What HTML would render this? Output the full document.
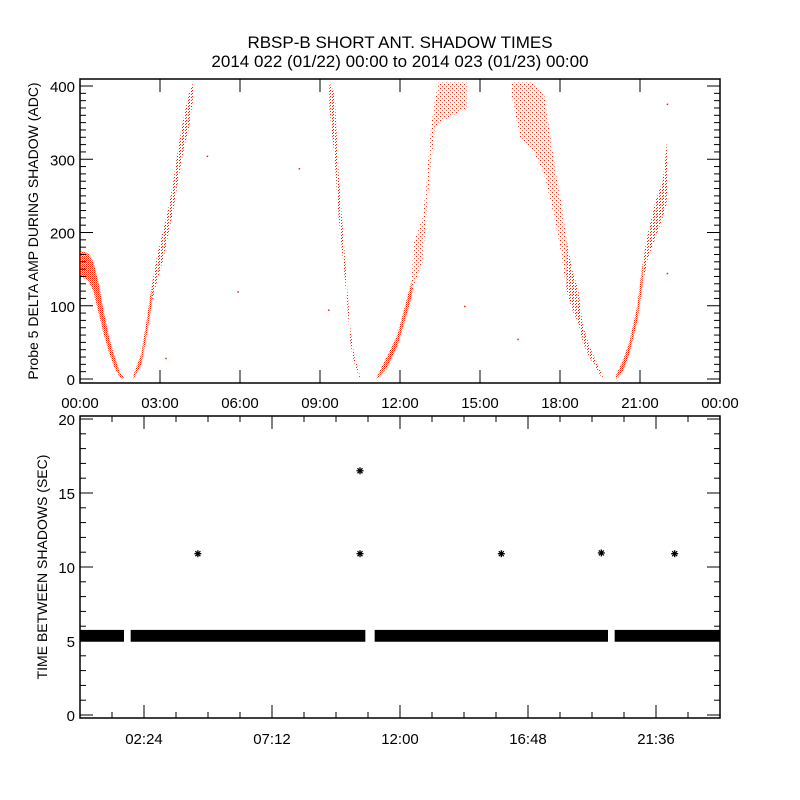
<!DOCTYPE html>
<html><head><meta charset="utf-8"><style>
body{margin:0;background:#fff}
svg{display:block;font-family:"Liberation Sans",sans-serif}
</style></head><body>
<svg id="c" width="800" height="800">
<defs>
<pattern id="dense" width="2" height="2" patternUnits="userSpaceOnUse"><rect width="1" height="1" fill="#ff2000"/><rect x="1" y="1" width="1" height="1" fill="#ff2000" opacity="0.6"/></pattern>
<pattern id="medium" width="3" height="3" patternUnits="userSpaceOnUse"><rect width="1" height="1" fill="#ff2000"/><rect x="2" y="1" width="1" height="1" fill="#ff2000"/></pattern>
<pattern id="sparse" width="4" height="4" patternUnits="userSpaceOnUse"><rect width="1" height="1" fill="#ff2000"/><rect x="2" y="2" width="1" height="1" fill="#ff2000" opacity="0.7"/></pattern>
</defs>
<text x="400" y="48" text-anchor="middle" font-size="17">RBSP-B SHORT ANT. SHADOW TIMES</text>
<text x="400" y="67" text-anchor="middle" font-size="17">2014 022 (01/22) 00:00 to 2014 023 (01/23) 00:00</text>
<g id="p1"></g><g id="p2"></g>
</svg>
<script>
// Top panel: delta amplitude bands [hour, low, high]
const seg1=[[0,140,175],[0.3,135,172],[0.5,120,160],[0.7,90,130],[0.9,60,90],[1.1,35,55],[1.3,15,30],[1.5,2,8],[1.65,0,3]];
const seg2a=[[2.0,0,5],[2.3,20,35],[2.5,60,80],[2.7,105,130]];
const seg2b=[[2.7,105,130],[2.9,135,170],[3.1,160,200],[3.3,195,230],[3.5,230,270],[3.7,275,320],[3.9,315,360],[4.1,345,392],[4.25,385,405]];
const seg3=[[9.35,370,405],[9.55,300,390],[9.7,220,280],[9.95,130,160],[10.15,45,65],[10.3,20,30],[10.5,0,5]];
const seg4a=[[11.13,0,3],[11.5,15,30],[11.9,45,60],[12.3,95,115],[12.45,115,135]];
const seg4b=[[12.45,115,135],[12.5,125,185],[12.85,160,220],[13.0,230,270],[13.15,290,340],[13.3,340,380],[13.45,350,405],[14.0,360,405],[14.5,370,405]];
const seg5a=[[16.2,385,405],[16.5,330,405],[17.0,310,405],[17.4,280,390],[17.6,250,340],[17.85,210,280],[18.05,170,240],[18.25,120,190]];
const seg5b=[[18.25,120,190],[18.45,95,150],[18.7,75,120],[18.85,50,75],[19.1,30,45],[19.35,15,25],[19.6,0,5]];
const seg6a=[[20.1,0,5],[20.35,10,25],[20.6,35,50],[20.9,80,100],[21.1,130,160]];
const seg6b=[[21.1,130,160],[21.3,165,200],[21.6,195,245],[21.85,220,270],[22.0,240,320],[22.05,300,330]];
const segments=[seg1,seg2a,seg2b,seg3,seg4a,seg4b,seg5a,seg5b,seg6a,seg6b];
const density=["dense","dense","medium","medium","dense","sparse","sparse","medium","dense","medium"];
const strayHours=[3.2,4.75,5.9,8.2,14.4,16.4,22.0,22.0,9.3];
const strayVals=[29,305,120,288,100,55,376,145,95];
const ampTicks=[0,100,200,300,400];
const hourTicks=["00:00","03:00","06:00","09:00","12:00","15:00","18:00","21:00","00:00"];
// Bottom panel
const bandStart=[0,1.9,11.05,20.05];
const bandEnd=[1.65,10.7,19.8,24];
const bandLow=[4.95,4.95,4.95,4.95];
const bandHigh=[5.75,5.75,5.75,5.75];
const starHours=[4.42,10.5,10.5,15.8,19.55,22.3];
const starVals=[10.9,16.5,10.9,10.9,10.95,10.9];
const gapTicks=[0,5,10,15,20];
const hourTicks2=["02:24","07:12","12:00","16:48","21:36"];

const NS="http://www.w3.org/2000/svg";
function mk(p,t,a){const e=document.createElementNS(NS,t);for(const k in a)e.setAttribute(k,a[k]);p.appendChild(e);return e;}
const L=80,R=720;
const x=h=>L+(h/24)*(R-L);
const y1=v=>379-v*(293/400);
const y2=v=>715-v*14.8;
const p1=document.getElementById('p1'),p2=document.getElementById('p2');

let f=mk(p1,'rect',{x:L,y:79,width:R-L,height:304,fill:'none',stroke:'#000','stroke-width':1.5});

const clip=mk(p1,'clipPath',{id:'cp1'});mk(clip,'rect',{x:L,y:79,width:R-L,height:304});
const g1=mk(p1,'g',{'clip-path':'url(#cp1)'});
segments.forEach((s,i)=>{
  const pts=s.map(d=>x(d[0])+','+y1(d[2])).concat(s.slice().reverse().map(d=>x(d[0])+','+y1(d[1])));
  const e=mk(g1,'polygon',{points:pts.join(' '),fill:'url(#'+density[i]+')'});
  
  
});
strayHours.forEach((h,i)=>{
  const e=mk(g1,'rect',{x:x(h),y:y1(strayVals[i]),width:1.5,height:1.5,fill:'#ff2000'});
  
  
});
for(let v=0;v<=400;v+=10){const maj=v%100===0;const len=maj?13:6;
  mk(p1,'line',{x1:L,x2:L+len,y1:y1(v),y2:y1(v),stroke:'#000'});
  mk(p1,'line',{x1:R,x2:R-len,y1:y1(v),y2:y1(v),stroke:'#000'});}
ampTicks.forEach(v=>{const t=mk(p1,'text',{x:75,y:y1(v)+6,'text-anchor':'end','font-size':15});t.textContent=v;
  });
hourTicks.forEach((s,i)=>{const xx=x(i*3);
  mk(p1,'line',{x1:xx,x2:xx,y1:383,y2:370,stroke:'#000'});mk(p1,'line',{x1:xx,x2:xx,y1:79,y2:92,stroke:'#000'});
  const t=mk(p1,'text',{x:xx,y:408,'text-anchor':'middle','font-size':15});t.textContent=s;
  });
let yt=mk(p1,'text',{x:0,y:0,'text-anchor':'middle','font-size':14,transform:'translate(38,231) rotate(-90)'});
yt.textContent='Probe 5 DELTA AMP DURING SHADOW (ADC)';


f=mk(p2,'rect',{x:L,y:416,width:R-L,height:302,fill:'none',stroke:'#000','stroke-width':1.5});

bandStart.forEach((s,i)=>{
  const e=mk(p2,'rect',{x:x(s),y:y2(bandHigh[i]),width:x(bandEnd[i])-x(s),height:y2(bandLow[i])-y2(bandHigh[i]),fill:'#000'});
  
  
});
starHours.forEach((h,i)=>{
  const cx=x(h),cy=y2(starVals[i]);
  const g=mk(p2,'g',{stroke:'#000','stroke-width':1.3});
  
  
  mk(g,'line',{x1:cx-3.5,x2:cx+3.5,y1:cy,y2:cy});mk(g,'line',{x1:cx,x2:cx,y1:cy-3.5,y2:cy+3.5});
  mk(g,'line',{x1:cx-2.5,x2:cx+2.5,y1:cy-2.5,y2:cy+2.5});mk(g,'line',{x1:cx-2.5,x2:cx+2.5,y1:cy+2.5,y2:cy-2.5});
});
for(let v=0;v<=20;v+=1){const maj=v%5===0;const len=maj?13:6;
  mk(p2,'line',{x1:L,x2:L+len,y1:y2(v),y2:y2(v),stroke:'#000'});
  mk(p2,'line',{x1:R,x2:R-len,y1:y2(v),y2:y2(v),stroke:'#000'});}
gapTicks.forEach(v=>{const t=mk(p2,'text',{x:75,y:y2(v)+6,'text-anchor':'end','font-size':15});t.textContent=v;
  });
for(let k=1;k<20;k++){const h=k*1.2;const maj=k%4===2;const len=maj?13:6;const xx=x(h);
  mk(p2,'line',{x1:xx,x2:xx,y1:718,y2:718-len,stroke:'#000'});mk(p2,'line',{x1:xx,x2:xx,y1:416,y2:416+len,stroke:'#000'});}
hourTicks2.forEach((s,i)=>{const xx=x(2.4+i*4.8);
  const t=mk(p2,'text',{x:xx,y:744,'text-anchor':'middle','font-size':15});t.textContent=s;
  });
yt=mk(p2,'text',{x:0,y:0,'text-anchor':'middle','font-size':14,transform:'translate(47,567) rotate(-90)'});
yt.textContent='TIME BETWEEN SHADOWS (SEC)';

</script>
</body></html>
